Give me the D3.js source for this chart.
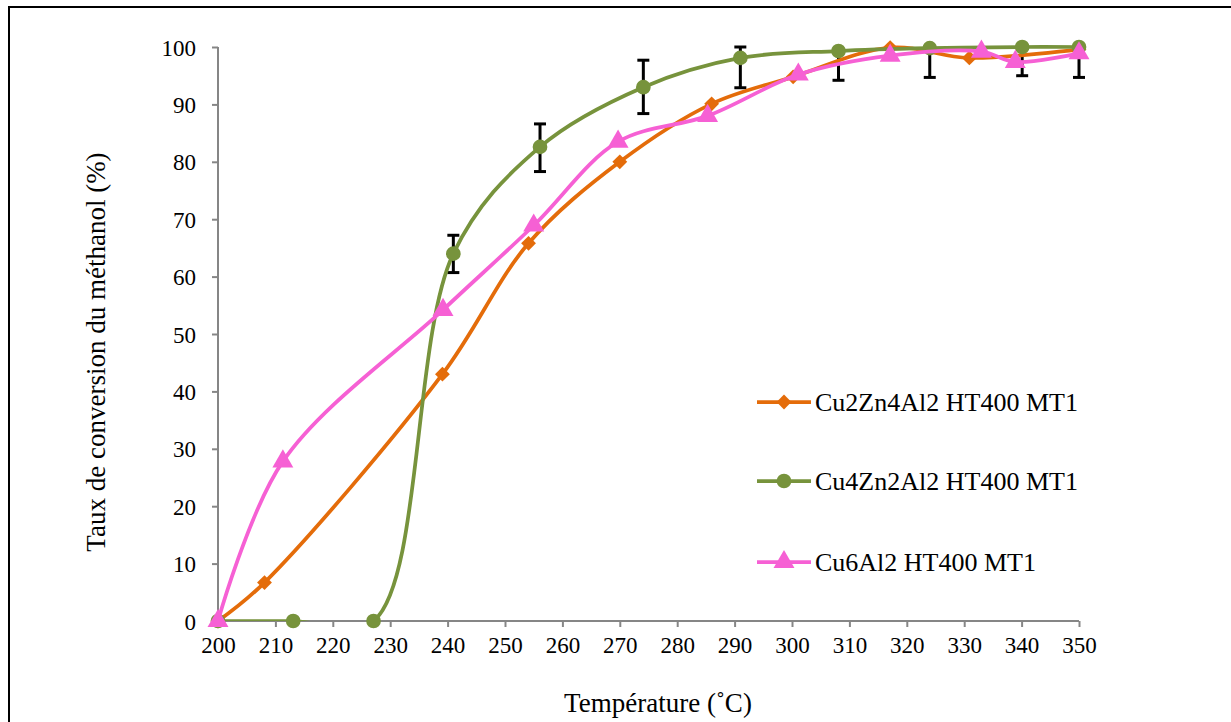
<!DOCTYPE html>
<html><head><meta charset="utf-8">
<script src="https://cdn.jsdelivr.net/npm/d3@7"></script>
<style>body{margin:0;background:#fff}svg{display:block}text{font-family:"Liberation Serif","Times New Roman",serif;fill:#000}</style>
</head><body><svg id="c" width="1231" height="722"></svg>
<script>
const xTicks = [200,210,220,230,240,250,260,270,280,290,300,310,320,330,340,350];
const yTicks = [0,10,20,30,40,50,60,70,80,90,100];
const seriesNames = ["Cu2Zn4Al2 HT400 MT1","Cu4Zn2Al2 HT400 MT1","Cu6Al2 HT400 MT1"];
const seriesColors = ["#E46C0A","#77933C","#F660D4"];
const seriesMarkers = ["diamond","circle","triangle"];
const orangeX = [200,208.1,239.1,254.1,270,286,300.2,317.1,330.9,350];
const orangeY = [0,6.7,43.0,65.8,80.0,90.1,94.8,99.9,98.1,99.6];
const greenX = [200,213.1,227.1,241,256.1,274.1,291,308.1,324,340.1,350];
const greenY = [0,0,0,64.0,82.6,93.0,98.1,99.3,99.8,100,100];
const pinkX = [200,211.3,239.2,255,269.7,285.3,301.1,317.1,333,338.9,350];
const pinkY = [0,27.8,54.2,68.9,83.5,88.0,95.2,98.5,99.2,97.4,98.9];
const errX = [241,256.1,274.1,291,308.1,324,340.1,350];
const errLow = [60.7,78.3,88.4,92.9,94.2,94.7,95.0,94.7];
const errHigh = [67.2,86.6,97.7,100,99.5,99.8,100,100];
const xTitle = "Température (˚C)";
const yTitle = "Taux de conversion du méthanol (%)";

const FONT = '"Liberation Serif","Times New Roman",serif';
const svg = d3.select("#c");
const x = d3.scaleLinear().domain([200,350]).range([218,1079]);
const y = d3.scaleLinear().domain([0,100]).range([621,47]);
const axisColor = "#868686";

svg.append("path").attr("d","M9,722 L9,7 L1231,7").attr("fill","none").attr("stroke","#000").attr("stroke-width",2);

svg.append("defs").append("clipPath").attr("id","clip")
  .append("rect").attr("x",200).attr("y",20).attr("width",1000).attr("height",601);

const gx = svg.append("g").attr("transform","translate(0,621)")
  .call(d3.axisBottom(x).tickValues(xTicks).tickSize(6).tickPadding(5).tickFormat(d3.format("d")));
const gy = svg.append("g").attr("transform","translate(218,0)")
  .call(d3.axisLeft(y).tickValues(yTicks).tickSize(6).tickPadding(16).tickFormat(d3.format("d")));
[gx,gy].forEach(g=>{
  g.attr("font-family",null).attr("font-size",null);
  g.select(".domain").attr("stroke",axisColor).attr("stroke-width",2);
  g.selectAll(".tick line").attr("stroke",axisColor).attr("stroke-width",2);
  g.selectAll(".tick text").style("font-family",FONT).style("font-size","23px").attr("fill","#000");
});
gx.select(".domain").attr("d","M218,0H1079");
gy.select(".domain").attr("d","M0,47V621");
gx.selectAll(".tick text").attr("dy","0.9em");
gy.selectAll(".tick text").attr("dy","0.35em");

svg.append("text").attr("x",658).attr("y",712).attr("text-anchor","middle").style("font-family",FONT).style("font-size","27px").text(xTitle);
svg.append("text").attr("transform","translate(105,352) rotate(-90)").attr("text-anchor","middle").style("font-family",FONT).style("font-size","27px").text(yTitle);

const eb = svg.append("g").attr("stroke","#000").attr("stroke-width",3);
errX.forEach((v,i)=>{
  eb.append("line").attr("x1",x(v)).attr("x2",x(v)).attr("y1",y(errLow[i])).attr("y2",y(errHigh[i]));
  eb.append("line").attr("x1",x(v)-6).attr("x2",x(v)+6).attr("y1",y(errLow[i])).attr("y2",y(errLow[i]));
  eb.append("line").attr("x1",x(v)-6).attr("x2",x(v)+6).attr("y1",y(errHigh[i])).attr("y2",y(errHigh[i]));
});

const squareDiamond = {draw(ctx,size){const r=Math.sqrt(size/2);ctx.moveTo(0,-r);ctx.lineTo(r,0);ctx.lineTo(0,r);ctx.lineTo(-r,0);ctx.closePath();}};
const series = [[orangeX,orangeY],[greenX,greenY],[pinkX,pinkY]];
const line = d3.line().x(d=>x(d[0])).y(d=>y(d[1])).curve(d3.curveCatmullRom.alpha(0.5));
const sym = {diamond:d3.symbol().type(squareDiamond).size(110),
             circle:d3.symbol().type(d3.symbolCircle).size(170),
             triangle:d3.symbol().type(d3.symbolTriangle).size(190)};
series.forEach((s,i)=>{
  const pts = s[0].map((v,j)=>[v,s[1][j]]);
  const g = svg.append("g");
  g.append("path").datum(pts).attr("clip-path","url(#clip)").attr("d",line)
    .attr("fill","none").attr("stroke",seriesColors[i]).attr("stroke-width",3.75);
  g.selectAll("path.m").data(pts).join("path").attr("class","m")
    .attr("transform",d=>`translate(${x(d[0])},${y(d[1])})`)
    .attr("d",sym[seriesMarkers[i]]).attr("fill",seriesColors[i]);
});

const legY = [402,481,562];
seriesNames.forEach((n,i)=>{
  const g = svg.append("g").attr("transform",`translate(757,${legY[i]})`);
  g.append("line").attr("x1",0).attr("x2",54).attr("stroke",seriesColors[i]).attr("stroke-width",3.75);
  g.append("path").attr("transform","translate(27,0)").attr("d",sym[seriesMarkers[i]]).attr("fill",seriesColors[i]);
  g.append("text").attr("x",58).attr("y",0).attr("dy","0.35em").style("font-family",FONT).style("font-size","26px").text(n);
});
</script></body></html>
